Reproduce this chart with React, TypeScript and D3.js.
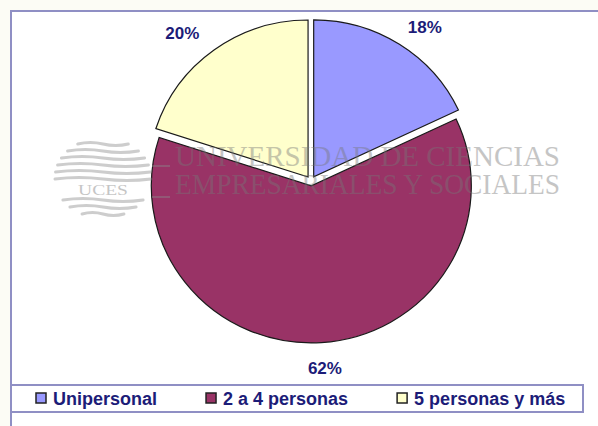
import React, { useRef, useEffect } from 'react'
import * as d3 from 'd3'

const categories = ['Unipersonal', '2 a 4 personas', '5 personas y más']
const shares = [18, 62, 20]
const pctLabels = ['18%', '62%', '20%']
const colors = ['#9999ff', '#993366', '#ffffcc']
const watermarkLines = ['UNIVERSIDAD DE CIENCIAS', 'EMPRESARIALES Y SOCIALES']

export default function App() {
  const svgRef = useRef<SVGSVGElement>(null)

  useEffect(() => {
    const width = 598
    const height = 426
    const cx = 311
    const cy = 181
    const rx = 160
    const ry = 157
    const explode = 5
    const frameColor = '#8f8fc4'
    const navy = '#1c1c78'

    const svg = d3.select(svgRef.current)
    svg.selectAll('*').remove()
    svg.attr('viewBox', `0 0 ${width} ${height}`)

    svg.append('rect').attr('width', width).attr('height', height).attr('fill', '#fcfcf5')
    svg.append('rect')
      .attr('x', 11).attr('y', 11).attr('width', 640).attr('height', 460)
      .attr('fill', '#fff').attr('stroke', frameColor).attr('stroke-width', 2)

    const pie = d3.pie<number>().sort(null).value(d => d)
    const arcs = pie(shares)
    const arc = d3.arc<d3.PieArcDatum<number>>().innerRadius(0).outerRadius(rx)

    const g = svg.append('g').attr('transform', `translate(${cx},${cy}) scale(1,${ry / rx})`)
    g.selectAll('path')
      .data(arcs)
      .join('path')
      .attr('d', arc)
      .attr('transform', d => {
        const a = (d.startAngle + d.endAngle) / 2
        return `translate(${Math.sin(a) * explode},${-Math.cos(a) * explode})`
      })
      .attr('fill', (_, i) => colors[i])
      .attr('stroke', '#1a1a1a')
      .attr('stroke-width', 1.2)

    // watermark logo
    const wm = svg.append('g').attr('opacity', 0.42)
    const lx = 103
    const ly = 178
    const lrx = 48
    const lry = 40
    const rows = [-34, -27, -20, -13, -6, 1, 22, 29, 36]
    rows.forEach(dy => {
      const hw = lrx * Math.sqrt(Math.max(0, 1 - (dy / lry) ** 2))
      const y = ly + dy
      wm.append('path')
        .attr('d', `M${lx - hw},${y} Q${lx - hw / 2},${y - 3} ${lx},${y} T${lx + hw},${y}`)
        .attr('fill', 'none')
        .attr('stroke', '#8a8a8a')
        .attr('stroke-width', 3)
        .attr('stroke-linecap', 'round')
    })
    wm.append('text')
      .attr('x', lx - 25).attr('y', 195)
      .attr('textLength', 50).attr('lengthAdjust', 'spacingAndGlyphs')
      .attr('font-family', '"Liberation Serif", serif')
      .attr('font-size', 15)
      .attr('fill', '#777')
      .text('UCES')
    ;[166, 197].forEach(y => {
      wm.append('line').attr('x1', 152).attr('x2', 170).attr('y1', y).attr('y2', y)
        .attr('stroke', '#8a8a8a').attr('stroke-width', 2)
    })
    const wt = wm.append('text')
      .attr('font-family', '"Liberation Serif", serif')
      .attr('font-size', 30)
      .attr('fill', '#777')
    watermarkLines.forEach((t, i) => {
      wt.append('tspan')
        .attr('x', 175).attr('y', 166 + i * 28)
        .attr('textLength', 385).attr('lengthAdjust', 'spacingAndGlyphs')
        .text(t)
    })

    // percentage labels
    const labelArc = d3.arc<d3.PieArcDatum<number>>().innerRadius(190).outerRadius(190)
    const dxs = [12, 2, -17]
    const dys = [9, 7, 9]
    svg.append('g')
      .selectAll('text')
      .data(arcs)
      .join('text')
      .attr('x', d => cx + labelArc.centroid(d)[0] + dxs[d.index])
      .attr('y', d => cy + labelArc.centroid(d)[1] * (ry / rx) + dys[d.index])
      .attr('text-anchor', 'middle')
      .attr('font-family', '"Liberation Sans", Arial, sans-serif')
      .attr('font-weight', 'bold')
      .attr('font-size', 17)
      .attr('fill', navy)
      .text((_, i) => pctLabels[i])

    // legend
    svg.append('rect')
      .attr('x', 11).attr('y', 385).attr('width', 572).attr('height', 27)
      .attr('fill', '#fff').attr('stroke', frameColor).attr('stroke-width', 2)
    let x = 36
    categories.forEach((c, i) => {
      svg.append('rect')
        .attr('x', x).attr('y', 393).attr('width', 10).attr('height', 10)
        .attr('fill', colors[i]).attr('stroke', '#222').attr('stroke-width', 1.5)
      const t = svg.append('text')
        .attr('x', x + 17).attr('y', 404.5)
        .attr('font-family', '"Liberation Sans", Arial, sans-serif')
        .attr('font-weight', 'bold')
        .attr('font-size', 18)
        .attr('fill', navy)
        .text(c)
      const w = (t.node() as SVGTextElement).getComputedTextLength()
      x += 17 + w + 49
    })
  }, [])

  return (
    <div style={{ position: 'absolute', left: 0, top: 0 }}>
      <svg ref={svgRef} width={598} height={426} style={{ display: 'block' }} />
    </div>
  )
}
